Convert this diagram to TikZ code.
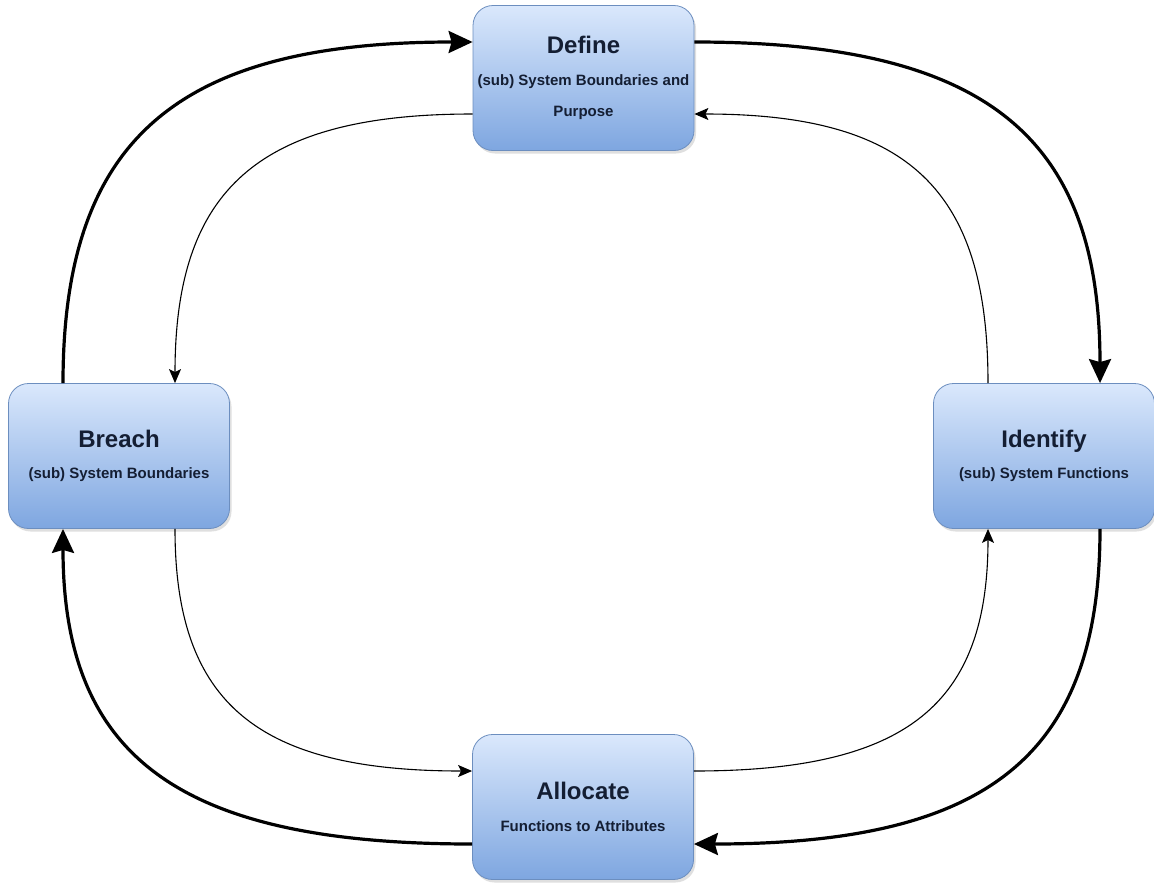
\documentclass[tikz,border=0pt]{standalone}
\usepackage{fontspec}
\setmainfont{Liberation Sans}
\usetikzlibrary{arrows.meta, shadows}
\definecolor{phasetop}{HTML}{DAE8FC}
\definecolor{phasebottom}{HTML}{7EA6E0}
\definecolor{phaseborder}{HTML}{6C8EBF}
\definecolor{phasetext}{HTML}{141E33}

\begin{document}
\begin{tikzpicture}[
      x=1pt, y=-1pt,
      phase/.style={draw=phaseborder, line width=0.8pt, rounded corners=20pt,
        top color=phasetop, bottom color=phasebottom,
        drop shadow={shadow xshift=2pt, shadow yshift=-3pt, opacity=0.25},
        minimum width=221pt, minimum height=145pt, align=center,
        text=phasetext, font=\bfseries\fontsize{15}{31.5}\selectfont},
      outerflow/.style={-{Stealth[length=24pt, width=22pt, inset=3pt]},
        line width=3.2pt},
      innerflow/.style={-{Stealth[length=14pt, width=12pt, inset=3pt]},
        line width=1.1pt}
    ]
      \useasboundingbox (0,0) rectangle (1154,884);
      \node[phase] (define) at (583.5,78)
        {{\fontsize{24}{32}\selectfont Define}\\(sub) System Boundaries and\\Purpose};
      \node[phase] (breach) at (119,456)
        {{\fontsize{24}{32}\selectfont Breach}\\(sub) System Boundaries};
      \node[phase] (identify) at (1044,456)
        {{\fontsize{24}{32}\selectfont Identify}\\(sub) System Functions};
      \node[phase] (allocate) at (583,807)
        {{\fontsize{24}{32}\selectfont Allocate}\\Functions to Attributes};
      % outer loop, clockwise
      \draw[outerflow] ([xshift=-56pt]breach.north)
        .. controls +(0,-245) and +(-294,0) .. ([yshift=36pt]define.west);
      \draw[outerflow] ([yshift=36pt]define.east)
        .. controls +(294,0) and +(0,-245) .. ([xshift=56pt]identify.north);
      \draw[outerflow] ([xshift=56pt]identify.south)
        .. controls +(0,228) and +(293,0) .. ([yshift=-37pt]allocate.east);
      \draw[outerflow] ([yshift=-37pt]allocate.west)
        .. controls +(-293,0) and +(0,228) .. ([xshift=-56pt]breach.south);
      % inner loop, counter-clockwise
      \draw[innerflow] ([yshift=-36pt]define.west)
        .. controls +(-214,0) and +(0,-194) .. ([xshift=56pt]breach.north);
      \draw[innerflow] ([xshift=56pt]breach.south)
        .. controls +(0,175) and +(-214,0) .. ([yshift=36pt]allocate.west);
      \draw[innerflow] ([yshift=36pt]allocate.east)
        .. controls +(214,0) and +(0,175) .. ([xshift=-56pt]identify.south);
      \draw[innerflow] ([xshift=-56pt]identify.north)
        .. controls +(0,-194) and +(214,0) .. ([yshift=-36pt]define.east);
    \end{tikzpicture}
\end{document}
